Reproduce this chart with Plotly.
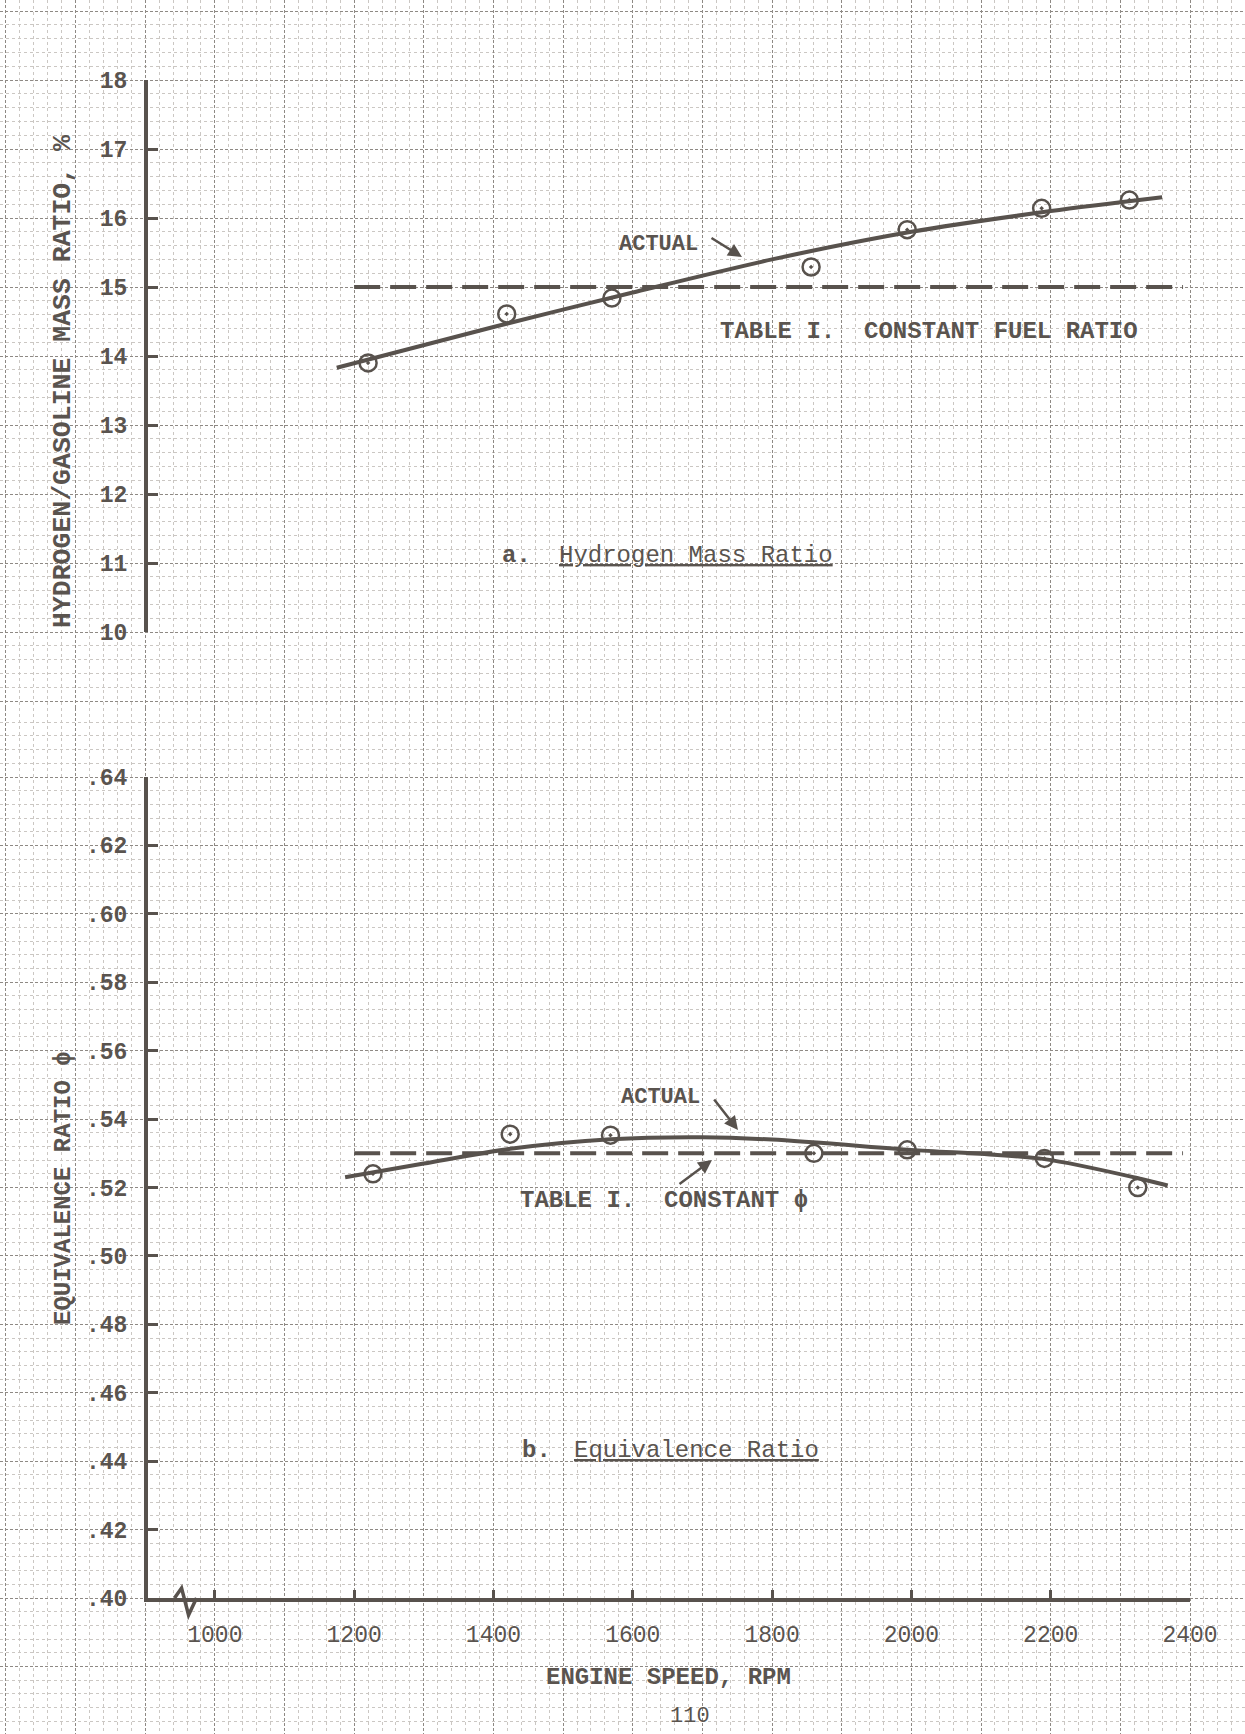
import plotly.graph_objects as go

W, H = 1245, 1734

# ---------------- data ----------------
rpm_ticks = [1000, 1200, 1400, 1600, 1800, 2000, 2200, 2400]
rpm_tick_labels = ["1000", "1200", "1400", "1600", "1800", "2000", "2200", "2400"]
h2_ticks = [10, 11, 12, 13, 14, 15, 16, 17, 18]
h2_tick_labels = ["10", "11", "12", "13", "14", "15", "16", "17", "18"]
phi_ticks = [0.40, 0.42, 0.44, 0.46, 0.48, 0.50, 0.52, 0.54, 0.56, 0.58, 0.60, 0.62, 0.64]
phi_tick_labels = [".40", ".42", ".44", ".46", ".48", ".50", ".52", ".54", ".56", ".58", ".60", ".62", ".64"]

# a. Hydrogen mass ratio
rpm_pts_h2 = [1220, 1419, 1570, 1856, 1994, 2187, 2313]
h2_pts = [13.90, 14.61, 14.84, 15.29, 15.83, 16.14, 16.26]
rpm_curve_h2 = [1175, 1400, 1600, 1800, 2000, 2200, 2360]
h2_curve = [13.83, 14.42, 14.92, 15.40, 15.80, 16.10, 16.30]
rpm_table = [1200, 2390]
h2_table = [15.0, 15.0]

# b. Equivalence ratio
rpm_pts_phi = [1227, 1424, 1568, 1860, 1994, 2191, 2325]
phi_pts = [0.524, 0.5356, 0.5353, 0.530, 0.531, 0.5285, 0.520]
rpm_curve_phi = [1187, 1300, 1424, 1568, 1700, 1800, 2000, 2191, 2330, 2368]
phi_curve = [0.523, 0.527, 0.5313, 0.5341, 0.5347, 0.5340, 0.5310, 0.5283, 0.5225, 0.5206]
phi_table = [0.53, 0.53]

x_range = [904, 2400]
h2_range = [10, 18]
phi_range = [0.40, 0.64]

# ---------------- layout geometry (pixels) ----------------
PLOT_L, PLOT_R = 148, 1190
TOP_T, TOP_B = 80, 632
BOT_T, BOT_B = 777, 1598
SPLIT = 708

INK = "#58524d"
TXT = "#5a544f"
MAJ = "#8e8984"
MIN = "#cbc7c3"
FONT = "Liberation Mono, DejaVu Sans Mono, monospace"


def fx(px):
    return px / W


def fy(py):
    return 1 - py / H


k = (x_range[1] - x_range[0]) / (PLOT_R - PLOT_L)
bg_x_range = [x_range[0] - PLOT_L * k, x_range[1] + (W - PLOT_R) * k]
kt = (h2_range[1] - h2_range[0]) / (TOP_B - TOP_T)
bg_top_range = [h2_range[0] - (SPLIT - TOP_B) * kt, h2_range[1] + TOP_T * kt]
kb = (phi_range[1] - phi_range[0]) / (BOT_B - BOT_T)
bg_bot_range = [phi_range[0] - (H - BOT_B) * kb, phi_range[1] + (BOT_T - SPLIT) * kb]

fig = go.Figure()

# graph-paper background subplots
fig.add_trace(go.Scatter(x=[None], y=[None], xaxis="x", yaxis="y", showlegend=False, hoverinfo="skip"))
fig.add_trace(go.Scatter(x=[None], y=[None], xaxis="x", yaxis="y2", showlegend=False, hoverinfo="skip"))

dash_line = dict(color=INK, width=4, dash="26px,10px")
curve_line = dict(color=INK, width=4, shape="spline", smoothing=0.8)
marker = dict(symbol="circle-open-dot", size=17, color=INK, line=dict(color=INK, width=2.5))

# top panel
fig.add_trace(go.Scatter(x=rpm_table, y=h2_table, mode="lines", line=dash_line,
                         xaxis="x2", yaxis="y3", showlegend=False))
fig.add_trace(go.Scatter(x=rpm_curve_h2, y=h2_curve, mode="lines", line=curve_line,
                         xaxis="x2", yaxis="y3", showlegend=False))
fig.add_trace(go.Scatter(x=rpm_pts_h2, y=h2_pts, mode="markers", marker=marker,
                         xaxis="x2", yaxis="y3", showlegend=False))
# bottom panel
fig.add_trace(go.Scatter(x=rpm_table, y=phi_table, mode="lines", line=dash_line,
                         xaxis="x3", yaxis="y4", showlegend=False))
fig.add_trace(go.Scatter(x=rpm_curve_phi, y=phi_curve, mode="lines", line=curve_line,
                         xaxis="x3", yaxis="y4", showlegend=False))
fig.add_trace(go.Scatter(x=rpm_pts_phi, y=phi_pts, mode="markers", marker=marker,
                         xaxis="x3", yaxis="y4", showlegend=False))

bg_common = dict(showticklabels=False, ticks="", showline=False, zeroline=False,
                 showgrid=True, gridcolor=MAJ, gridwidth=1, griddash="3px,2px",
                 fixedrange=True)

tick_font_y = dict(family=FONT, size=23, color=TXT, weight="bold")
tick_font_x = dict(family=FONT, size=23, color=TXT)

fig.update_layout(
    width=W, height=H,
    margin=dict(l=0, r=0, t=0, b=0, autoexpand=False),
    paper_bgcolor="#ffffff",
    plot_bgcolor="rgba(0,0,0,0)",
    showlegend=False,
    xaxis=dict(domain=[0, 1], range=bg_x_range, anchor="y", tick0=0, dtick=100,
               minor=dict(dtick=20, showgrid=True, gridcolor=MIN, griddash="dot", gridwidth=1),
               **bg_common),
    yaxis=dict(domain=[fy(SPLIT), 1], range=bg_top_range, anchor="x", tick0=0, dtick=1,
               minor=dict(dtick=0.2, showgrid=True, gridcolor=MIN, griddash="dot", gridwidth=1),
               **bg_common),
    yaxis2=dict(domain=[0, fy(SPLIT)], range=bg_bot_range, anchor="x", tick0=0, dtick=0.02,
                minor=dict(dtick=0.004, showgrid=True, gridcolor=MIN, griddash="dot", gridwidth=1),
                **bg_common),
    xaxis2=dict(domain=[fx(PLOT_L), fx(PLOT_R)], range=x_range, anchor="y3", visible=False,
                showgrid=False, zeroline=False, fixedrange=True),
    yaxis3=dict(domain=[fy(TOP_B), fy(TOP_T)], range=h2_range, anchor="x2",
                showgrid=False, zeroline=False, showline=True, linecolor=INK, linewidth=4,
                ticks="inside", ticklen=10, tickwidth=3, tickcolor=INK,
                tickvals=h2_ticks, ticktext=h2_tick_labels, tickfont=tick_font_y,
                ticklabelstandoff=12, automargin=False, fixedrange=True),
    xaxis3=dict(domain=[fx(PLOT_L), fx(PLOT_R)], range=x_range, anchor="y4",
                showgrid=False, zeroline=False, showline=True, linecolor=INK, linewidth=4,
                ticks="inside", ticklen=8, tickwidth=3, tickcolor=INK,
                tickvals=rpm_ticks, ticktext=rpm_tick_labels, tickfont=tick_font_x,
                ticklabelstandoff=12, automargin=False, fixedrange=True),
    yaxis4=dict(domain=[fy(BOT_B), fy(BOT_T)], range=phi_range, anchor="x3",
                showgrid=False, zeroline=False, showline=True, linecolor=INK, linewidth=4,
                ticks="inside", ticklen=10, tickwidth=3, tickcolor=INK,
                tickvals=phi_ticks, ticktext=phi_tick_labels, tickfont=tick_font_y,
                ticklabelstandoff=12, automargin=False, fixedrange=True),
)

# axis break squiggle on the x axis (paper y so it is not clipped)
fig.add_shape(type="path", xref="x3", yref="paper", xsizemode="pixel", ysizemode="pixel",
              xanchor=945, yanchor=fy(BOT_B), path="M-2,0 L5,10 L12,-17 L20,0",
              line=dict(color=INK, width=3.5))


def txt(text, x, y, size=24, anchor="center", angle=0, under=False, yanchor="middle", bold=False):
    font = dict(family=FONT, size=size, color=TXT)
    if under:
        font["lineposition"] = "under"
    if bold:
        font["weight"] = "bold"
    fig.add_annotation(text=text, x=fx(x), y=fy(y), xref="paper", yref="paper",
                       xanchor=anchor, yanchor=yanchor, showarrow=False,
                       textangle=angle, font=font)


def arrow(xref, yref, x, y, ax, ay):
    fig.add_annotation(text="", x=x, y=y, xref=xref, yref=yref, ax=ax, ay=ay,
                       showarrow=True, arrowhead=2, arrowsize=1.1, arrowwidth=2.5,
                       arrowcolor=INK, standoff=0)


# axis titles
txt("HYDROGEN/GASOLINE MASS RATIO, %", 63, 382, size=26.5, angle=-90, bold=True)
txt("EQUIVALENCE RATIO ϕ", 63, 1188, size=24, angle=-90, bold=True)
txt("ENGINE SPEED, RPM", 668, 1677, size=24, bold=True)
txt("110", 690, 1716, size=22)

# top panel labels
txt("ACTUAL", 658, 245, size=22, bold=True)
arrow("x2", "y3", x_range[0] + (742 - PLOT_L) * k, h2_range[1] - (257 - TOP_T) * kt, -32, -20)
txt("TABLE I.\u00a0\u00a0CONSTANT FUEL RATIO", 718, 332, size=24, anchor="left", bold=True)
txt("a.", 500, 555, size=24, anchor="left", bold=True)
txt("Hydrogen Mass Ratio", 557, 555, size=24, anchor="left", under=True)

# bottom panel labels
txt("ACTUAL", 660, 1097, size=22, bold=True)
arrow("x3", "y4", x_range[0] + (738 - PLOT_L) * k, phi_range[1] - (1130 - BOT_T) * kb, -25, -32)
txt("TABLE I.\u00a0\u00a0CONSTANT ϕ", 518, 1200, size=24, anchor="left", bold=True)
arrow("x3", "y4", x_range[0] + (712 - PLOT_L) * k, phi_range[1] - (1160 - BOT_T) * kb, -34, 25)
txt("b.", 520, 1450, size=24, anchor="left", bold=True)
txt("Equivalence Ratio", 572, 1450, size=24, anchor="left", under=True)

fig.write_html("out.html", config={"displayModeBar": False},
               post_script="document.body.style.margin='0';")
